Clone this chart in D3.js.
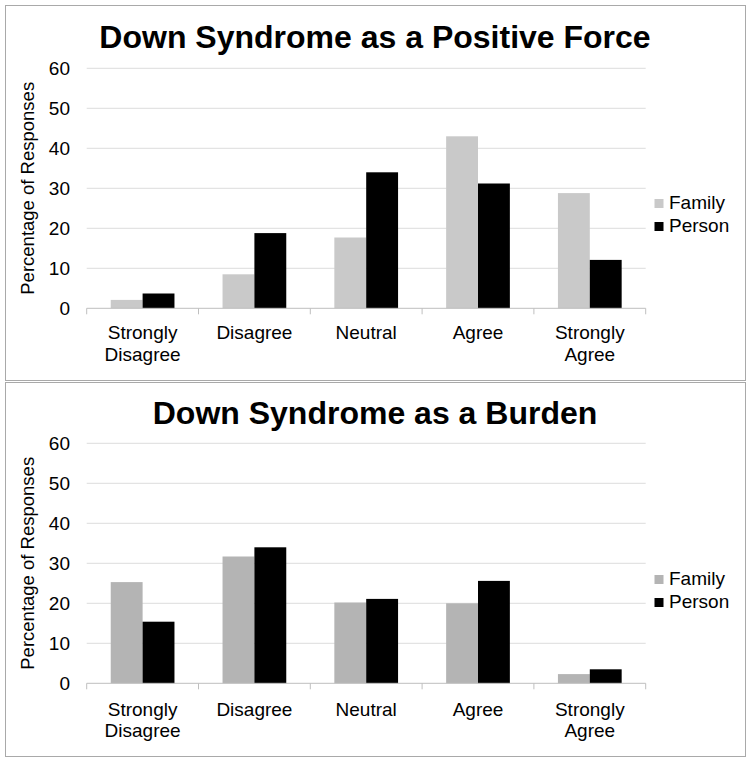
<!DOCTYPE html>
<html>
<head>
<meta charset="utf-8">
<script src="https://cdn.jsdelivr.net/npm/d3@7"></script>
<style>
body { margin:0; background:#fff; }
text { font-family: Arial, "Liberation Sans", sans-serif; fill:#000; }
</style>
</head>
<body>
<div id="chart"></div>
<script>
// data
var categories = ["Strongly Disagree", "Disagree", "Neutral", "Agree", "Strongly Agree"];
var catLines = [["Strongly", "Disagree"], ["Disagree"], ["Neutral"], ["Agree"], ["Strongly", "Agree"]];
var seriesNames = ["Family", "Person"];
var positiveFamily = [2.1, 8.5, 17.7, 43.0, 28.8];
var positivePerson = [3.7, 18.8, 34.0, 31.2, 12.1];
var burdenFamily = [25.3, 31.7, 20.2, 20.0, 2.3];
var burdenPerson = [15.4, 34.0, 21.1, 25.6, 3.5];
var yTicks = [0, 10, 20, 30, 40, 50, 60];

var width = 751, height = 763;

var svg = d3.select('#chart').append('svg')
  .attr('width', width)
  .attr('height', height);

// layout of the two panels
var panels = [
  { title: "Down Syndrome as a Positive Force", family: positiveFamily, person: positivePerson,
    famColor: "#c9c9c9", box: [5.5, 5.5, 740, 375], titleY: 48, y0: 308.3, y1: 68.3,
    legendY: [209, 232], labelY: 339, lineH: 22 },
  { title: "Down Syndrome as a Burden", family: burdenFamily, person: burdenPerson,
    famColor: "#b4b4b4", box: [5.5, 382.5, 740, 374], titleY: 423.5, y0: 683.3, y1: 443.3,
    legendY: [585, 608], labelY: 716, lineH: 21 }
];

var xLeft = 86.7, xRight = 645.7;

panels.forEach(function(p) {
  var g = svg.append('g');

  g.append('rect')
    .attr('x', p.box[0]).attr('y', p.box[1])
    .attr('width', p.box[2]).attr('height', p.box[3])
    .attr('fill', 'none')
    .attr('stroke', '#a9a9a9')
    .attr('stroke-width', 1);

  g.append('text')
    .attr('x', 375).attr('y', p.titleY)
    .attr('text-anchor', 'middle')
    .style('font-size', '32px')
    .style('font-weight', 'bold')
    .text(p.title);

  var y = d3.scaleLinear().domain([0, 60]).range([p.y0, p.y1]);
  var x0 = d3.scaleBand().domain(categories).range([xLeft, xRight])
    .paddingInner(0.43).paddingOuter(0.215);
  var x1 = d3.scaleBand().domain(seriesNames).range([0, x0.bandwidth()]).padding(0);
  var color = d3.scaleOrdinal().domain(seriesNames).range([p.famColor, "#000000"]);

  // gridlines
  g.selectAll('.grid').data(yTicks.slice(1)).enter().append('line')
    .attr('x1', xLeft).attr('x2', xRight)
    .attr('y1', function(d) { return y(d); })
    .attr('y2', function(d) { return y(d); })
    .attr('stroke', '#dcdcdc').attr('stroke-width', 1);

  // y tick labels
  g.selectAll('.ytick').data(yTicks).enter().append('text')
    .attr('x', 70).attr('y', function(d) { return y(d); })
    .attr('dy', '0.36em')
    .attr('text-anchor', 'end')
    .style('font-size', '19px')
    .text(function(d) { return d; });

  // y label
  g.append('text')
    .attr('transform', 'translate(34,' + ((p.y0 + p.y1) / 2) + ') rotate(-90)')
    .attr('text-anchor', 'middle')
    .style('font-size', '18.5px')
    .text("Percentage of Responses");

  // bars
  var rows = categories.map(function(c, i) {
    return { cat: c, vals: [{ k: "Family", v: p.family[i] }, { k: "Person", v: p.person[i] }] };
  });
  var grp = g.selectAll('.grp').data(rows).enter().append('g')
    .attr('transform', function(d) { return 'translate(' + x0(d.cat) + ',0)'; });
  grp.selectAll('rect').data(function(d) { return d.vals; }).enter().append('rect')
    .attr('x', function(d) { return x1(d.k); })
    .attr('width', x1.bandwidth())
    .attr('y', function(d) { return y(d.v); })
    .attr('height', function(d) { return y(0) - y(d.v); })
    .attr('fill', function(d) { return color(d.k); });

  // x axis line + ticks
  g.append('line')
    .attr('x1', xLeft).attr('x2', xRight)
    .attr('y1', y(0)).attr('y2', y(0))
    .attr('stroke', '#bfbfbf').attr('stroke-width', 1);
  var step = x0.step();
  g.selectAll('.xtick').data(d3.range(categories.length + 1)).enter().append('line')
    .attr('x1', function(d) { return xLeft + d * step; })
    .attr('x2', function(d) { return xLeft + d * step; })
    .attr('y1', y(0)).attr('y2', y(0) + 6)
    .attr('stroke', '#bfbfbf').attr('stroke-width', 1);

  // category labels
  var lab = g.selectAll('.cat').data(categories).enter().append('text')
    .attr('text-anchor', 'middle')
    .style('font-size', '19px');
  lab.each(function(c, i) {
    var t = d3.select(this);
    catLines[i].forEach(function(line, j) {
      t.append('tspan')
        .attr('x', x0(c) + x0.bandwidth() / 2)
        .attr('y', p.labelY + j * p.lineH)
        .text(line);
    });
  });

  // legend
  seriesNames.forEach(function(s, i) {
    g.append('rect')
      .attr('x', 654.5).attr('y', p.legendY[i] - 10)
      .attr('width', 9).attr('height', 9)
      .attr('fill', color(s));
    g.append('text')
      .attr('x', 669).attr('y', p.legendY[i])
      .style('font-size', '19px')
      .text(s);
  });
});
</script>
</body>
</html>
